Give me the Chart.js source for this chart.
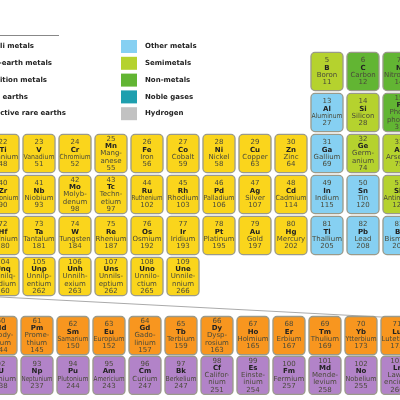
<!DOCTYPE html>
<html><head><meta charset="utf-8">
<script src="https://cdn.jsdelivr.net/npm/chart.js@4"></script>
<style>body{margin:0;background:#fff}canvas{display:block}</style>
</head><body>
<canvas id="c" width="400" height="400"></canvas>
<script>
const numbers=[5,6,7,13,14,15,
22,23,24,25,26,27,28,29,30,31,32,33,
40,41,42,43,44,45,46,47,48,49,50,51,
72,73,74,75,76,77,78,79,80,81,82,83,
104,105,106,107,108,109,
60,61,62,63,64,65,66,67,68,69,70,71,
92,93,94,95,96,97,98,99,100,101,102,103];
const symbols=["B","C","N","Al","Si","P",
"Ti","V","Cr","Mn","Fe","Co","Ni","Cu","Zn","Ga","Ge","As",
"Zr","Nb","Mo","Tc","Ru","Rh","Pd","Ag","Cd","In","Sn","Sb",
"Hf","Ta","W","Re","Os","Ir","Pt","Au","Hg","Tl","Pb","Bi",
"Unq","Unp","Unh","Uns","Uno","Une",
"Nd","Pm","Sm","Eu","Gd","Tb","Dy","Ho","Er","Tm","Yb","Lu",
"U","Np","Pu","Am","Cm","Bk","Cf","Es","Fm","Md","No","Lr"];
const names=["Boron","Carbon","Nitrogen","Aluminum","Silicon","Phos-\nphorus",
"Titanium","Vanadium","Chromium","Mang-\nanese","Iron","Cobalt","Nickel","Copper","Zinc","Gallium","Germ-\nanium","Arsenic",
"Zirconium","Niobium","Molyb-\ndenum","Techn-\netium","Ruthenium","Rhodium","Palladium","Silver","Cadmium","Indium","Tin","Antimony",
"Hafnium","Tantalum","Tungsten","Rhenium","Osmium","Iridium","Platinum","Gold","Mercury","Thallium","Lead","Bismuth",
"Unnilq-\nuadium","Unnilp-\nentium","Unnilh-\nexium","Unnils-\neptium","Unnilo-\nctium","Unnile-\nnnium",
"Neody-\nmium","Prome-\nthium","Samarium","Europium","Gado-\nlinium","Terbium","Dysp-\nrosium","Holmium","Erbium","Thulium","Ytterbium","Lutetium",
"Uranium","Neptunium","Plutonium","Americium","Curium","Berkelium","Califor-\nnium","Einste-\ninium","Fermium","Mende-\nlevium","Nobelium","Lawr-\nencium"];
const masses=[11,12,14,27,28,31,
48,51,52,55,56,59,58,63,64,69,74,75,
90,93,98,97,102,103,106,107,114,115,120,122,
180,181,184,187,192,193,195,197,202,205,208,209,
260,262,263,262,265,266,
144,145,150,152,157,159,163,165,167,169,173,175,
238,237,244,243,247,247,251,254,257,258,255,260];
const groups=[13,14,15,13,14,15,
4,5,6,7,8,9,10,11,12,13,14,15,
4,5,6,7,8,9,10,11,12,13,14,15,
4,5,6,7,8,9,10,11,12,13,14,15,
4,5,6,7,8,9,
4,5,6,7,8,9,10,11,12,13,14,15,
4,5,6,7,8,9,10,11,12,13,14,15];
const periods=[2,2,2,3,3,3,
4,4,4,4,4,4,4,4,4,4,4,4,
5,5,5,5,5,5,5,5,5,5,5,5,
6,6,6,6,6,6,6,6,6,6,6,6,
7,7,7,7,7,7,
8,8,8,8,8,8,8,8,8,8,8,8,
9,9,9,9,9,9,9,9,9,9,9,9];
const categories=["s","n","n","o","s","n",
"t","t","t","t","t","t","t","t","t","o","s","s",
"t","t","t","t","t","t","t","t","t","o","o","s",
"t","t","t","t","t","t","t","t","t","o","o","o",
"t","t","t","t","t","t",
"r","r","r","r","r","r","r","r","r","r","r","r",
"a","a","a","a","a","a","a","a","a","a","a","a"];
const legendLeft=["Alkali metals","Alkali-earth metals","Transition metals","Rare earths","Radioactive rare earths"];
const legendRight=["Other metals","Semimetals","Non-metals","Noble gases","Hydrogen"];
const legendRightCats=["o","s","n","g","h"];
const colors={t:"#fad51c",o:"#86d0f2",s:"#b5d22e",n:"#62b533",g:"#1e9fae",h:"#c2c2c2",r:"#f8961f",a:"#b283c8"};

function rowPos(p){return p>=8?p+0.44-(p-8)*0.03:p;}
function colPos(g,p){return p>=8?g-0.056:g;}

const cellPlugin={id:'cells',afterDatasetsDraw(chart){
 const ctx=chart.ctx,xs=chart.scales.x,ys=chart.scales.y;
 ctx.save();
 ctx.strokeStyle="#888";ctx.lineWidth=1;
 ctx.beginPath();ctx.moveTo(0,35.5);ctx.lineTo(59,35.5);ctx.stroke();
 ctx.font="bold 7px 'DejaVu Sans'";ctx.fillStyle="#222";ctx.textBaseline="middle";
 const ends=[34,52,47,28,66],ly=[46,63,80,97,113];
 legendLeft.forEach((t,i)=>{ctx.textAlign="right";ctx.fillText(t,ends[i],ly[i]);});
 legendRight.forEach((t,i)=>{
   ctx.fillStyle=colors[legendRightCats[i]];ctx.fillRect(121,40+16.8*i,16,13);
   ctx.fillStyle="#222";ctx.textAlign="left";ctx.fillText(t,145,ly[i]);
 });
 ctx.strokeStyle="#aaa";ctx.beginPath();ctx.moveTo(0,297);ctx.lineTo(400,318);ctx.stroke();
 const w=Math.abs(xs.getPixelForValue(1)-xs.getPixelForValue(0))*0.89;
 const h=Math.abs(ys.getPixelForValue(1)-ys.getPixelForValue(0))*0.93;
 numbers.forEach((n,i)=>{
   const cx=xs.getPixelForValue(colPos(groups[i],periods[i]));
   const cy=ys.getPixelForValue(rowPos(periods[i]));
   const x=cx-w/2,y=cy-h/2;
   ctx.beginPath();ctx.roundRect(x,y,w,h,4);
   ctx.fillStyle=colors[categories[i]];ctx.fill();
   ctx.strokeStyle="#9a9a8a";ctx.lineWidth=1.3;ctx.stroke();
   const parts=names[i].split("\n");
   const lines=[String(n),symbols[i],...parts,String(masses[i])];
   const step=7.3, start=lines.length>4?4.5:8;
   ctx.textAlign="center";ctx.textBaseline="middle";
   lines.forEach((t,k)=>{
     ctx.font=(k===1?"bold ":"")+"7px 'DejaVu Sans'";
     ctx.fillStyle=k===1?"#222":"#4a4a3a";
     ctx.fillText(t,cx,y+start+step*k,w-1);
   });
 });
 ctx.restore();
}};

new Chart(document.getElementById('c'),{
 type:'scatter',
 data:{datasets:[{data:numbers.map((n,i)=>({x:colPos(groups[i],periods[i]),y:rowPos(periods[i])})),pointRadius:0}]},
 options:{responsive:false,animation:false,events:[],
  layout:{padding:0},
  plugins:{legend:{display:false},tooltip:{enabled:false}},
  scales:{x:{type:'linear',min:3.9167,max:15.028,display:false},
          y:{type:'linear',min:0.256,max:10.012,reverse:true,display:false}}},
 plugins:[cellPlugin]
});
</script>
</body></html>
